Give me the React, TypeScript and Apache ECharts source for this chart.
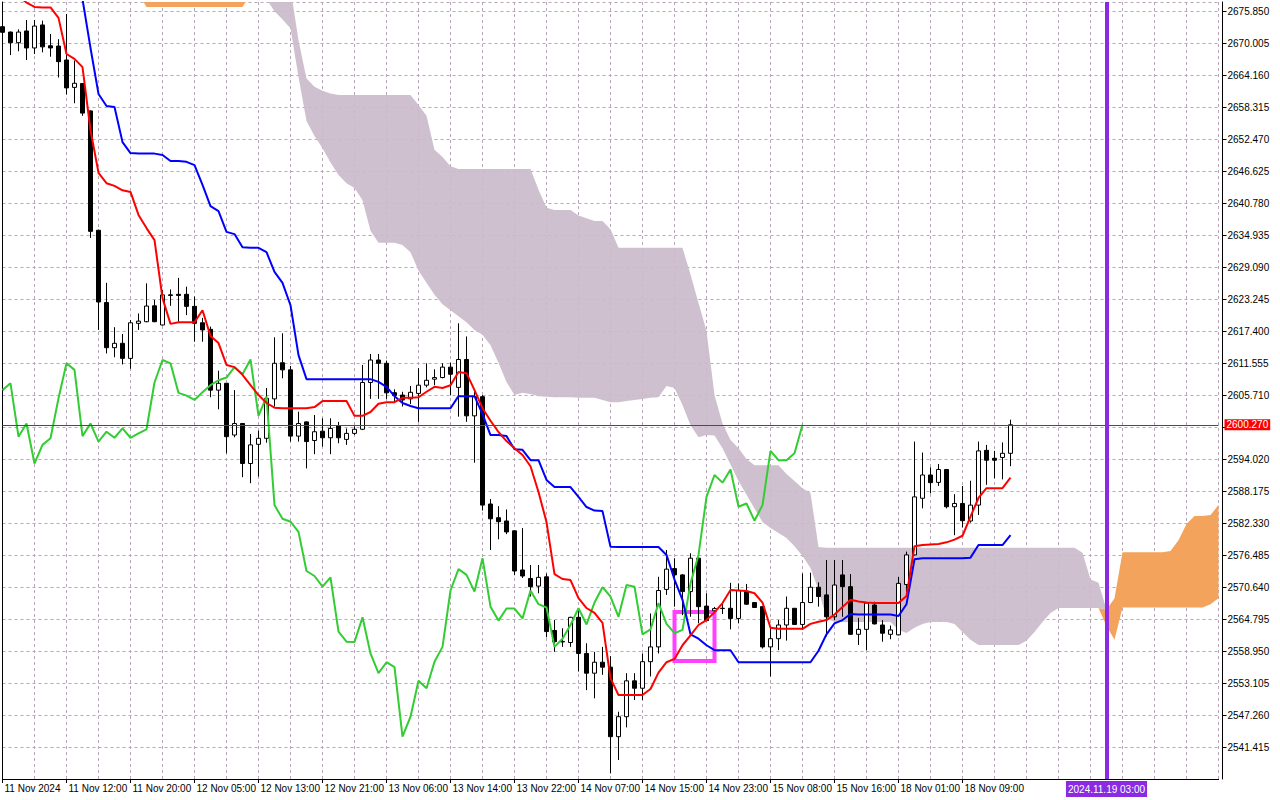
import React, { useEffect, useRef } from 'react';
import * as echarts from 'echarts';

// ---------- tick labels ----------
const xTickLabels = [
  '11 Nov 2024', '11 Nov 12:00', '11 Nov 20:00', '12 Nov 05:00', '12 Nov 13:00', '12 Nov 21:00',
  '13 Nov 06:00', '13 Nov 14:00', '13 Nov 22:00', '14 Nov 07:00', '14 Nov 15:00', '14 Nov 23:00',
  '15 Nov 08:00', '15 Nov 16:00', '18 Nov 01:00', '18 Nov 09:00',
];
// top -> bottom; the slot hidden behind the current price label is empty
const yTickLabels = [
  '2675.850', '2670.005', '2664.160', '2658.315', '2652.470', '2646.625', '2640.780', '2634.935',
  '2629.090', '2623.245', '2617.400', '2611.555', '2605.710', '', '2594.020', '2588.175',
  '2582.330', '2576.485', '2570.640', '2564.795', '2558.950', '2553.105', '2547.260', '2541.415',
];
const futureTimeLabel = '2024.11.19 03:00';
const futureIndex = 138;
const boxIndices = [84, 89];
const boxValues = [2566.07, 2557.13];

// ---------- candles (hourly) ----------
const opens = [
  2672.98, 2672.0, 2670.06, 2672.2, 2669.1, 2673.3, 2669.5, 2669.45, 2666.9, 2661.9,
  2662.6, 2657.6, 2635.8, 2622.6, 2614.35, 2615.15, 2612.4, 2618.8, 2619.1, 2622.0,
  2618.5, 2624.0, 2624.1, 2624.1, 2621.9, 2618.9, 2617.7, 2606.6, 2607.85, 2598.4,
  2600.5, 2593.2, 2596.7, 2597.8, 2605.0, 2611.6, 2610.3, 2598.2, 2600.8, 2597.4,
  2599.1, 2597.9, 2600.05, 2597.6, 2598.7, 2599.45, 2608.0, 2612.1, 2611.5, 2606.13,
  2605.7, 2605.0, 2606.0, 2607.5, 2608.6, 2608.9, 2610.8, 2607.1, 2612.2, 2601.9,
  2605.4, 2585.8, 2583.3, 2582.7, 2580.9, 2573.75, 2572.2, 2570.8, 2572.5, 2562.7,
  2560.7, 2560.5, 2565.1, 2558.5, 2554.9, 2556.9, 2556.0, 2543.3, 2546.95, 2553.5,
  2552.15, 2557.0, 2559.7, 2570.2, 2574.0, 2572.85, 2569.8, 2575.9, 2567.15, 2566.3,
  2566.75, 2566.75, 2564.9, 2569.8, 2567.8, 2567.05, 2559.7, 2561.2, 2563.7, 2566.75,
  2563.8, 2567.8, 2570.6, 2569.2, 2565.2, 2572.85, 2570.7, 2562.0, 2562.9, 2567.35,
  2563.7, 2562.0, 2561.9, 2571.1, 2576.5, 2586.85, 2591.1, 2589.75, 2592.1, 2585.3,
  2585.9, 2582.7, 2585.6, 2595.6, 2594.15, 2594.3, 2595.06,
];
const closes = [
  2671.96, 2670.06, 2672.0, 2669.1, 2673.1, 2669.3, 2669.1, 2666.6, 2661.8, 2662.65,
  2657.2, 2635.6, 2622.7, 2614.35, 2615.15, 2612.4, 2618.9, 2619.2, 2621.96, 2619.1,
  2624.0, 2623.9, 2623.9, 2621.9, 2618.8, 2617.6, 2606.6, 2607.85, 2598.1, 2600.5,
  2593.2, 2596.6, 2597.8, 2605.1, 2611.5, 2610.3, 2598.2, 2600.5, 2597.2, 2599.0,
  2597.9, 2599.6, 2597.9, 2598.7, 2599.45, 2608.0, 2612.1, 2611.5, 2606.1, 2605.6,
  2604.8, 2606.2, 2607.5, 2608.4, 2608.9, 2610.8, 2609.5, 2612.2, 2601.9, 2605.4,
  2585.6, 2583.1, 2582.57, 2580.7, 2573.56, 2572.65, 2570.7, 2572.4, 2562.5, 2560.65,
  2560.6, 2565.1, 2558.5, 2554.9, 2556.9, 2556.0, 2543.3, 2546.95, 2553.5, 2552.15,
  2557.0, 2559.7, 2570.0, 2573.9, 2572.85, 2569.8, 2575.9, 2567.05, 2564.5, 2566.7,
  2566.7, 2564.9, 2570.0, 2567.5, 2566.9, 2559.7, 2561.2, 2563.7, 2566.75, 2563.8,
  2567.8, 2570.6, 2568.9, 2565.2, 2571.0, 2570.7, 2562.0, 2562.9, 2567.7, 2563.9,
  2562.2, 2562.8, 2571.3, 2576.5, 2587.1, 2591.1, 2589.7, 2592.1, 2585.3, 2585.9,
  2582.75, 2585.6, 2595.5, 2593.8, 2593.8, 2595.06, 2600.27,
];
const lows = [
  2671.5, 2667.8, 2668.5, 2666.9, 2668.0, 2668.3, 2667.5, 2663.7, 2660.6, 2659.0,
  2656.7, 2634.4, 2617.6, 2613.3, 2612.6, 2611.3, 2610.5, 2617.6, 2619.0, 2619.0,
  2618.4, 2622.0, 2619.1, 2620.3, 2615.45, 2615.45, 2605.3, 2603.1, 2595.06, 2597.98,
  2590.7, 2589.6, 2590.8, 2597.0, 2603.6, 2608.76, 2597.2, 2597.2, 2592.3, 2594.9,
  2596.27, 2594.9, 2596.9, 2596.6, 2598.4, 2599.3, 2605.0, 2605.0, 2605.0, 2604.3,
  2603.6, 2604.06, 2600.8, 2607.1, 2607.5, 2608.76, 2605.65, 2601.75, 2600.8, 2593.35,
  2584.6, 2577.4, 2579.35, 2580.3, 2572.8, 2572.3, 2568.9, 2569.5, 2561.45, 2558.8,
  2559.7, 2559.7, 2555.2, 2551.8, 2550.3, 2554.6, 2536.6, 2539.04, 2545.0, 2550.0,
  2550.0, 2554.3, 2558.5, 2569.2, 2567.05, 2565.5, 2565.2, 2564.0, 2564.4, 2565.9,
  2565.7, 2562.9, 2564.0, 2567.4, 2566.8, 2559.4, 2554.3, 2559.1, 2560.85, 2563.7,
  2562.8, 2567.7, 2567.05, 2561.6, 2564.6, 2565.2, 2561.9, 2560.05, 2559.1, 2563.8,
  2560.65, 2561.1, 2561.8, 2569.5, 2576.4, 2585.0, 2587.75, 2589.1, 2585.0, 2580.1,
  2581.5, 2582.4, 2583.8, 2589.3, 2590.5, 2590.3, 2592.7,
];
const highs = [
  2673.5, 2672.1, 2672.5, 2674.2, 2674.2, 2674.1, 2671.65, 2670.7, 2675.3, 2666.8,
  2662.7, 2657.7, 2635.9, 2626.2, 2618.1, 2616.85, 2619.4, 2620.6, 2626.1, 2623.1,
  2624.9, 2625.0, 2627.1, 2625.5, 2623.7, 2619.8, 2618.2, 2610.15, 2607.9, 2606.6,
  2600.6, 2598.6, 2599.2, 2607.0, 2616.25, 2616.98, 2611.0, 2602.66, 2600.9, 2602.06,
  2601.45, 2601.45, 2600.8, 2599.6, 2600.0, 2611.2, 2613.2, 2613.2, 2612.0, 2606.75,
  2606.3, 2607.35, 2610.6, 2611.5, 2610.4, 2611.5, 2611.6, 2618.8, 2616.4, 2606.5,
  2605.7, 2586.7, 2585.4, 2584.8, 2581.0, 2581.4, 2574.66, 2574.66, 2573.1, 2564.6,
  2563.1, 2565.2, 2566.75, 2560.36, 2558.8, 2559.7, 2558.0, 2547.86, 2554.9, 2554.9,
  2558.5, 2565.8, 2572.5, 2577.4, 2575.9, 2573.0, 2576.8, 2576.0, 2569.5, 2567.0,
  2567.8, 2571.4, 2571.3, 2571.2, 2567.9, 2567.1, 2563.4, 2564.6, 2568.9, 2566.8,
  2573.1, 2573.25, 2571.5, 2575.57, 2575.57, 2575.57, 2573.0, 2565.0, 2567.8, 2567.95,
  2564.6, 2563.6, 2572.5, 2577.1, 2597.2, 2595.2, 2592.5, 2593.1, 2592.2, 2587.6,
  2589.1, 2590.05, 2597.2, 2596.6, 2595.5, 2597.05, 2601.2,
];

// ---------- Ichimoku lines ----------
const tenkan = [
  2680, 2679, 2678.5, 2677.4, 2676.6, 2676.5, 2676.5, 2674.6, 2668.0, 2667.1,
  2665.6, 2654.1, 2646.3, 2644.4, 2643.9, 2643.1, 2642.8, 2638.6, 2636.2, 2634.0,
  2623.4, 2618.7, 2619.0, 2619.0, 2619.0, 2621.2, 2616.5, 2615.2, 2611.2, 2610.8,
  2609.4, 2607.5, 2605.7, 2604.25, 2603.4, 2603.3, 2603.3, 2603.3, 2603.3, 2603.5,
  2604.6, 2604.6, 2604.6, 2604.6, 2601.9, 2601.9, 2602.6, 2604.1, 2604.4, 2604.4,
  2605.2, 2605.2, 2605.3, 2606.3, 2607.2, 2607.0, 2607.5, 2609.9, 2609.7, 2606.6,
  2603.3, 2601.0, 2598.95, 2597.3, 2596.0, 2594.75, 2592.7, 2588.0, 2582.5, 2573.0,
  2572.1, 2571.9, 2568.6, 2566.8, 2565.9, 2564.1, 2554.0, 2550.9, 2550.9, 2550.9,
  2550.9, 2552.0, 2555.0, 2556.9, 2557.5, 2560.0, 2561.8, 2563.7, 2564.6, 2566.0,
  2567.7, 2570.1, 2570.0, 2569.9, 2569.5, 2567.8, 2563.2, 2563.0, 2563.0, 2563.0,
  2563.0, 2563.9, 2564.3, 2564.6, 2565.6, 2567.0, 2568.3, 2568.0, 2567.8, 2567.7,
  2567.7, 2567.7, 2567.7, 2569.0, 2578.1, 2578.3, 2578.4, 2578.5, 2578.8, 2579.3,
  2580.0, 2583.5, 2586.9, 2588.7, 2588.7, 2588.7, 2590.6,
];
const kijun = [
  2690, 2690, 2690, 2690, 2689, 2689, 2688, 2687, 2686, 2684,
  2678.0, 2669.1, 2660.7, 2658.5, 2658.3, 2651.9, 2649.9, 2649.8, 2649.8, 2649.8,
  2649.55, 2648.45, 2648.45, 2648.3, 2647.7, 2644.1, 2640.2, 2639.3, 2635.5, 2635.1,
  2632.7, 2632.6, 2632.6, 2631.8, 2628.2, 2626.2, 2622.1, 2613.0, 2608.6, 2608.6,
  2608.6, 2608.6, 2608.6, 2608.6, 2608.6, 2608.6, 2608.6, 2608.1, 2607.2, 2605.5,
  2604.25, 2603.7, 2603.3, 2603.3, 2603.3, 2603.3, 2603.3, 2605.5, 2605.5, 2605.5,
  2602.2, 2598.4, 2598.4, 2598.2, 2595.8, 2595.7, 2593.8, 2593.8, 2590.2, 2588.9,
  2588.9, 2588.9, 2587.1, 2585.25, 2584.6, 2584.5, 2578.0, 2577.95, 2577.95, 2577.95,
  2577.95, 2577.95, 2577.95, 2576.5, 2572.0, 2568.3, 2562.0, 2561.2, 2560.0, 2559.1,
  2559.1, 2559.1, 2556.9, 2556.9, 2556.9, 2556.9, 2556.9, 2556.9, 2556.9, 2556.9,
  2556.9, 2556.9, 2559.0, 2562.0, 2564.0, 2564.6, 2565.7, 2565.6, 2565.6, 2565.6,
  2565.6, 2565.6, 2565.35, 2567.5, 2575.7, 2575.9, 2575.9, 2575.9, 2575.9, 2575.9,
  2575.9, 2576.0, 2578.3, 2578.3, 2578.3, 2578.3, 2580.1,
];
// Senkou spans, already shifted 26 bars forward (153 slots)
const spanA = [
  2688, 2688, 2688, 2688, 2688, 2688, 2688, 2688, 2688, 2688,
  2688, 2688, 2688, 2688, 2688, 2688, 2688, 2688, 2686, 2686,
  2686, 2686, 2686, 2686, 2686, 2686, 2686, 2686, 2686, 2686,
  2686, 2685, 2683, 2678.0, 2675.8, 2674.3, 2672.7, 2663.8, 2655.75, 2653.0,
  2650.8, 2648.2, 2645.9, 2644.4, 2643.5, 2641.3, 2635.7, 2633.5, 2633.5, 2633.5,
  2633.1, 2631.8, 2628.4, 2626.2, 2624.0, 2622.3, 2621.2, 2620.1, 2619.0, 2617.6,
  2616.7, 2614.8, 2611.6, 2608.1, 2605.7, 2606.1, 2605.9, 2605.5, 2605.4, 2605.3,
  2605.3, 2605.3, 2605.2, 2605.2, 2605.2, 2604.8, 2604.4, 2604.4, 2604.6, 2604.8,
  2605.0, 2605.2, 2605.3, 2607.35, 2607.0, 2603.9, 2600.2, 2598.0, 2598.4, 2598.3,
  2596.0, 2593.0, 2590.0, 2587.5, 2585.0, 2582.5, 2581.4, 2580.5, 2579.6, 2578.1,
  2576.3, 2574.1, 2570.1, 2565.0, 2564.25, 2564.25, 2564.25, 2564.25, 2564.25, 2564.25,
  2564.25, 2564.25, 2562.8, 2562.25, 2563.2, 2563.9, 2564.25, 2564.25, 2564.25, 2563.9,
  2562.4, 2561.0, 2560.05, 2560.05, 2560.05, 2560.05, 2560.05, 2560.05, 2560.8, 2562.4,
  2564.25, 2565.9, 2566.8, 2566.8, 2566.8, 2566.8, 2566.8, 2566.8, 2566.5, 2568.6,
  2577.0, 2577.0, 2577.0, 2577.0, 2577.0, 2577.0, 2577.2, 2579.2, 2582.15, 2583.6,
  2583.6, 2583.8, 2585.6,
];
const spanB = [
  2680, 2680, 2680, 2680, 2680, 2680, 2680, 2680, 2680, 2680,
  2680, 2680, 2680, 2680, 2680, 2680, 2680, 2679, 2676.6, 2676.6,
  2676.6, 2676.6, 2676.6, 2676.6, 2676.6, 2676.6, 2676.6, 2676.6, 2676.6, 2676.6,
  2676.6, 2679, 2681, 2690, 2688, 2685, 2680, 2670.5, 2663.5, 2662.0,
  2661.3, 2660.8, 2660.5, 2660.5, 2660.5, 2660.5, 2660.5, 2660.5, 2660.5, 2660.5,
  2660.5, 2660.5, 2658.7, 2656.7, 2650.5, 2649.2, 2647.5, 2647.0, 2647.0, 2647.0,
  2647.0, 2647.0, 2647.0, 2647.0, 2647.0, 2647.0, 2647.0, 2643.2, 2639.9, 2639.5,
  2639.5, 2639.5, 2638.5, 2638.0, 2637.5, 2637.5, 2636.0, 2632.6, 2632.6, 2632.6,
  2632.6, 2632.6, 2632.6, 2632.6, 2632.6, 2632.6, 2627.7, 2622.5, 2617.4, 2605.7,
  2600.5, 2597.5, 2596.0, 2594.0, 2592.9, 2592.9, 2592.9, 2592.9, 2591.3, 2590.0,
  2588.7, 2587.8, 2577.95, 2577.8, 2577.8, 2577.8, 2577.8, 2577.8, 2577.8, 2577.8,
  2577.8, 2577.8, 2577.8, 2577.8, 2577.8, 2577.8, 2577.8, 2577.8, 2577.8, 2577.8,
  2577.8, 2577.8, 2577.8, 2577.8, 2577.8, 2577.8, 2577.8, 2577.8, 2577.8, 2577.8,
  2577.8, 2577.8, 2577.8, 2577.8, 2577.8, 2576.9, 2572.0, 2571.4, 2563.5, 2561.0,
  2566.9, 2566.9, 2566.9, 2566.9, 2566.9, 2566.9, 2566.9, 2566.9, 2566.9, 2566.9,
  2566.9, 2567.5, 2568.6,
];
const CHIKOU_SHIFT = 26;

// ---------- layout constants ----------
const SLOTS = 153;
const LABEL_EVERY = 8;
const GRID_EVERY = 4;
const Y_BASE = 2535.57; // one tick step below the lowest label
const Y_STEP = 5.845;
const PX_PER_STEP = 32;
const GRID_TOP = 2;
const GRID_BOTTOM = 21;
const PLOT_H = 800 - GRID_TOP - GRID_BOTTOM;
const STEPS = PLOT_H / PX_PER_STEP;
const Y_MAX = Y_BASE + STEPS * Y_STEP;

const FONT = '"Liberation Sans", Arial, sans-serif';
const GRID_COLOR = '#b6a8b6';
const CLOUD_BEAR = '#cbbbcb';
const CLOUD_BULL = '#f3a35c';

function buildOption() {
  const cats = Array.from({ length: SLOTS }, (_, i) => String(i));
  const candleData = opens.map((o, i) => [o, closes[i], lows[i], highs[i]]);
  const chikou = closes.slice(CHIKOU_SHIFT);
  const base = spanA.map((a, i) => Math.min(a, spanB[i]));
  const bull = spanA.map((a, i) => (a > spanB[i] ? +(a - spanB[i]).toFixed(3) : 0));
  const bear = spanA.map((a, i) => (a > spanB[i] ? 0 : +(spanB[i] - a).toFixed(3)));
  const isLabel = (i: number) => i % LABEL_EVERY === 0 && i / LABEL_EVERY < xTickLabels.length;
  const lastClose = closes[closes.length - 1];

  const lineCommon = {
    type: 'line',
    symbol: 'none',
    showSymbol: false,
    silent: true,
    emphasis: { disabled: true },
    xAxisIndex: 0,
    yAxisIndex: 0,
  };

  return {
    animation: false,
    backgroundColor: '#ffffff',
    textStyle: { fontFamily: FONT },
    grid: { left: 2.5, right: 61.5, top: GRID_TOP, bottom: GRID_BOTTOM, containLabel: false },
    xAxis: [
      {
        type: 'category',
        data: cats,
        boundaryGap: false,
        axisLine: { show: true, lineStyle: { color: '#000', width: 1 } },
        axisTick: {
          show: true,
          length: 4,
          interval: (i: number) => isLabel(i),
          lineStyle: { color: '#000' },
        },
        axisLabel: {
          show: true,
          interval: (i: number) => isLabel(i),
          formatter: (v: string) => xTickLabels[Number(v) / LABEL_EVERY] ?? '',
          align: 'left',
          margin: 4,
          padding: [0, 0, 0, 2],
          color: '#000',
          fontSize: 10,
          fontFamily: FONT,
        },
        splitLine: {
          show: true,
          interval: (i: number) => i % GRID_EVERY === 0 && i > 0,
          lineStyle: { color: GRID_COLOR, type: [3, 3], width: 1 },
        },
      },
      {
        type: 'category',
        data: cats,
        boundaryGap: false,
        position: 'top',
        axisLine: { show: true, lineStyle: { color: '#000', width: 1 } },
        axisTick: { show: false },
        axisLabel: { show: false },
        splitLine: { show: false },
      },
    ],
    yAxis: [
      {
        type: 'value',
        min: Y_BASE,
        max: Y_MAX,
        position: 'right',
        offset: 4,
        axisLine: { show: true, lineStyle: { color: '#000', width: 1 } },
        axisTick: { show: false },
        axisLabel: { show: false },
        splitLine: { show: false },
      },
      {
        type: 'value',
        min: 0,
        max: STEPS,
        interval: 1,
        position: 'right',
        offset: 4,
        axisLine: { show: false },
        axisTick: { show: true, length: 4, lineStyle: { color: '#000' } },
        axisLabel: {
          show: true,
          showMinLabel: false,
          showMaxLabel: false,
          margin: 5,
          color: '#000',
          fontSize: 10,
          fontFamily: FONT,
          formatter: (v: number) => {
            const i = Math.round(v);
            if (Math.abs(v - i) > 1e-6 || i < 1) return '';
            return yTickLabels[yTickLabels.length - i] ?? '';
          },
        },
        splitLine: { show: true, lineStyle: { color: GRID_COLOR, type: [3, 3], width: 1 } },
      },
      {
        type: 'value',
        min: 0,
        max: 1,
        position: 'left',
        axisLine: { show: true, lineStyle: { color: '#000', width: 1 } },
        axisTick: { show: false },
        axisLabel: { show: false },
        splitLine: { show: false },
      },
    ],
    series: [
      { ...lineCommon, name: 'cloudBase', stack: 'cloud', data: base, lineStyle: { width: 0, opacity: 0 }, z: 1 },
      {
        ...lineCommon,
        name: 'cloudBull',
        stack: 'cloud',
        data: bull,
        lineStyle: { width: 0, opacity: 0 },
        areaStyle: { color: CLOUD_BULL, opacity: 1 },
        z: 1,
      },
      {
        ...lineCommon,
        name: 'cloudBear',
        stack: 'cloud',
        data: bear,
        lineStyle: { width: 0, opacity: 0 },
        areaStyle: { color: CLOUD_BEAR, opacity: 0.92 },
        z: 1,
      },
      {
        type: 'candlestick',
        name: 'XAUUSD',
        data: candleData,
        barWidth: 5,
        silent: true,
        emphasis: { disabled: true },
        clip: true,
        itemStyle: {
          color: '#ffffff',
          color0: '#000000',
          borderColor: '#000000',
          borderColor0: '#000000',
          borderWidth: 1,
        },
        z: 2,
        markLine: {
          silent: true,
          symbol: ['none', 'none'],
          animation: false,
          lineStyle: { color: '#ff0000', width: 1, type: 'solid' },
          label: {
            show: true,
            position: 'end',
            distance: 6,
            formatter: lastClose.toFixed(3),
            color: '#ffffff',
            backgroundColor: '#ff0000',
            padding: [1, 2, 0, 2],
            lineHeight: 10,
            fontSize: 10,
            fontFamily: FONT,
          },
          data: [{ yAxis: lastClose }],
        },
      },
      {
        ...lineCommon,
        name: 'Chikou',
        data: chikou,
        lineStyle: { color: '#32cd32', width: 2 },
        z: 3,
      },
      {
        ...lineCommon,
        name: 'Kijun',
        data: kijun,
        lineStyle: { color: '#0000ff', width: 2 },
        z: 3,
        markLine: {
          silent: true,
          symbol: ['none', 'none'],
          animation: false,
          lineStyle: { color: '#8a2be2', width: 4, type: 'solid' },
          label: {
            show: true,
            position: 'start',
            distance: 2,
            formatter: futureTimeLabel,
            color: '#ffffff',
            backgroundColor: '#8a2be2',
            padding: [2, 2, 2, 2],
            lineHeight: 12,
            fontSize: 10,
            fontFamily: FONT,
          },
          data: [{ xAxis: cats[futureIndex] }],
        },
      },
      {
        ...lineCommon,
        name: 'Tenkan',
        data: tenkan,
        lineStyle: { color: '#ff0000', width: 2 },
        z: 4,
        markArea: {
          silent: true,
          itemStyle: { color: 'rgba(0,0,0,0)', borderColor: '#ff40ff', borderWidth: 4 },
          data: [
            [
              { xAxis: cats[boxIndices[0]], yAxis: boxValues[0] },
              { xAxis: cats[boxIndices[1]], yAxis: boxValues[1] },
            ],
          ],
        },
      },
    ],
  };
}

export default function App() {
  const ref = useRef<HTMLDivElement>(null);
  useEffect(() => {
    document.body.style.margin = '0';
    if (!ref.current) return;
    const chart = echarts.init(ref.current, undefined, { renderer: 'svg' });
    chart.setOption(buildOption() as any);
    return () => {
      chart.dispose();
    };
  }, []);
  return <div ref={ref} style={{ width: 1280, height: 800, background: '#ffffff' }} />;
}
